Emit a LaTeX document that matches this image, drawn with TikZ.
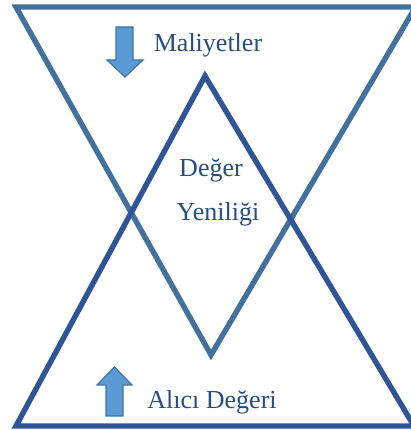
\documentclass[tikz,border=0pt]{standalone}
\usepackage{fontspec}
\setmainfont{Liberation Serif}
\usepackage{xcolor}
\definecolor{tri-light}{HTML}{41719C}
\definecolor{tri-dark}{HTML}{2F5597}
\definecolor{arrow-fill}{HTML}{5B9BD5}
\definecolor{label-blue}{HTML}{264F80}
\tikzstyle{tri-line} = [line width=5.4pt, line join=miter]
\tikzstyle{block-arrow} = [fill=arrow-fill, draw=tri-light, line width=1.2pt, line join=miter]
\tikzstyle{label-text} = [text=label-blue, inner sep=0pt, anchor=base,
    font=\fontsize{26}{30}\selectfont]

\begin{document}
\begin{tikzpicture}[x=1pt, y=1pt]
\useasboundingbox (0,0) rectangle (411,430);
\clip (0,0) rectangle (411,430);
% corners of the two triangles
\coordinate (top-left) at (16,423);
\coordinate (top-right) at (415.5,423);
\coordinate (low-apex) at (211,75);
\coordinate (base-left) at (16,4);
\coordinate (base-right) at (414,4);
\coordinate (high-apex) at (205,354);
% cost triangle (upside down), then value triangle
\draw [tri-line, draw=tri-light] (top-left) -- (top-right) -- (low-apex) -- cycle;
\draw [tri-line, draw=tri-dark] (base-left) -- (base-right) -- (high-apex) -- cycle;
% block arrows
\draw [block-arrow] (116,403) -- (133,403) -- (133,370) -- (143,370) -- (125,353)
    -- (107,370) -- (116,370) -- cycle;
\draw [block-arrow] (106,14) -- (123,14) -- (123,45) -- (132,45) -- (114.5,63)
    -- (97,45) -- (106,45) -- cycle;
% labels
\node [label-text] (maliyet-text) at (208,378) {Maliyetler};
\node [label-text] (deger-text) at (211,253) {Değer};
\node [label-text] (yenilik-text) at (218,209) {Yeniliği};
\node [label-text] (alici-text) at (212,21) {Alıcı Değeri};
\end{tikzpicture}
\end{document}
